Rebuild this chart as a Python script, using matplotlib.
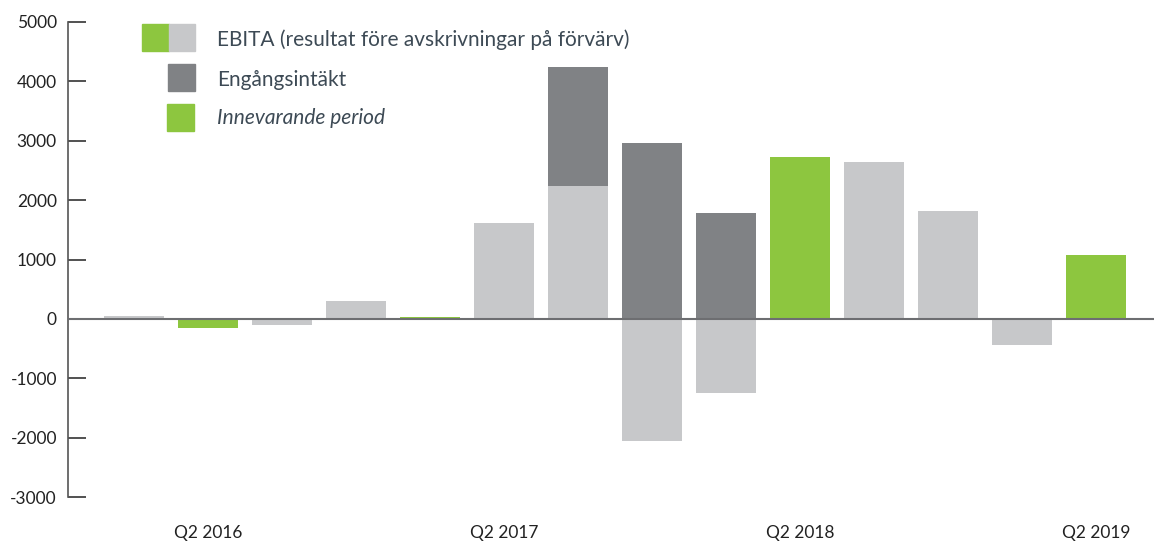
import matplotlib.pyplot as plt
from matplotlib.patches import Rectangle

# Kvartal Q1 2016 - Q2 2019
quarters = ["Q1 2016", "Q2 2016", "Q3 2016", "Q4 2016",
            "Q1 2017", "Q2 2017", "Q3 2017", "Q4 2017",
            "Q1 2018", "Q2 2018", "Q3 2018", "Q4 2018",
            "Q1 2019", "Q2 2019"]
ebita = [50, -160, -110, 300, 25, 1610, 2238, -2051, -1243, 2727, 2643, 1817, -434, 1076]
engangsintakt = [0, 0, 0, 0, 0, 0, 2004, 2962, 1784, 0, 0, 0, 0, 0]
innevarande = [False, True, False, False, True, False, False, False, False, True, False, False, False, True]
tick_labels = ["Q2 2016", "Q2 2017", "Q2 2018", "Q2 2019"]
tick_pos = [1, 5, 9, 13]

GREEN = "#8dc63f"
LIGHT = "#c7c8ca"
DARK = "#808285"
TEXT = "#3d4a55"

plt.rcParams["font.family"] = ["Lato", "DejaVu Sans"]
plt.rcParams["axes.unicode_minus"] = False

fig = plt.figure(figsize=(11.54, 5.42), dpi=100)
ax = fig.add_axes([68 / 1154, 45 / 542, 1086 / 1154, 475 / 542])

x = list(range(len(quarters)))
colors = [GREEN if cur else LIGHT for cur in innevarande]
ax.bar(x, ebita, width=0.81, color=colors, zorder=2)
bottoms = [max(v, 0) for v in ebita]
ax.bar(x, engangsintakt, bottom=bottoms, width=0.81, color=DARK, zorder=2)

ax.axhline(0, color="#6d6e71", lw=1.5, zorder=3)

ax.set_xlim(-0.892, 13.78)
ax.set_ylim(-3000, 5000)
ax.set_yticks(range(-3000, 5001, 1000))
ax.set_xticks(tick_pos)
ax.set_xticklabels(tick_labels)
ax.tick_params(axis="x", length=0, pad=20, labelsize=12.5, labelcolor="#222222")
ax.tick_params(axis="y", direction="in", length=13, width=1.2, color="#333333",
               pad=8, labelsize=12.5, labelcolor="#222222")

for side in ["top", "right", "bottom"]:
    ax.spines[side].set_visible(False)
ax.spines["left"].set_color("#555555")
ax.spines["left"].set_linewidth(1.2)

# Legend drawn by hand
W, H = 1154, 542


def box(x0, y0, w, h, c):
    fig.patches.append(Rectangle((x0 / W, 1 - (y0 + h) / H), w / W, h / H,
                                 transform=fig.transFigure, color=c))


box(142, 24, 27, 27, GREEN)
box(169, 24, 26, 27, LIGHT)
box(168, 64, 27, 27, DARK)
box(167, 104, 27, 27, GREEN)
fig.text(217 / W, 1 - 40 / H, "EBITA (resultat före avskrivningar på förvärv)",
         va="center", ha="left", fontsize=15, color=TEXT)
fig.text(217 / W, 1 - 80 / H, "Engångsintäkt", va="center", ha="left", fontsize=15, color=TEXT)
fig.text(217 / W, 1 - 118 / H, "Innevarande period", va="center", ha="left",
         fontsize=15, color=TEXT, style="italic")

fig.savefig("out.png", dpi=100)
